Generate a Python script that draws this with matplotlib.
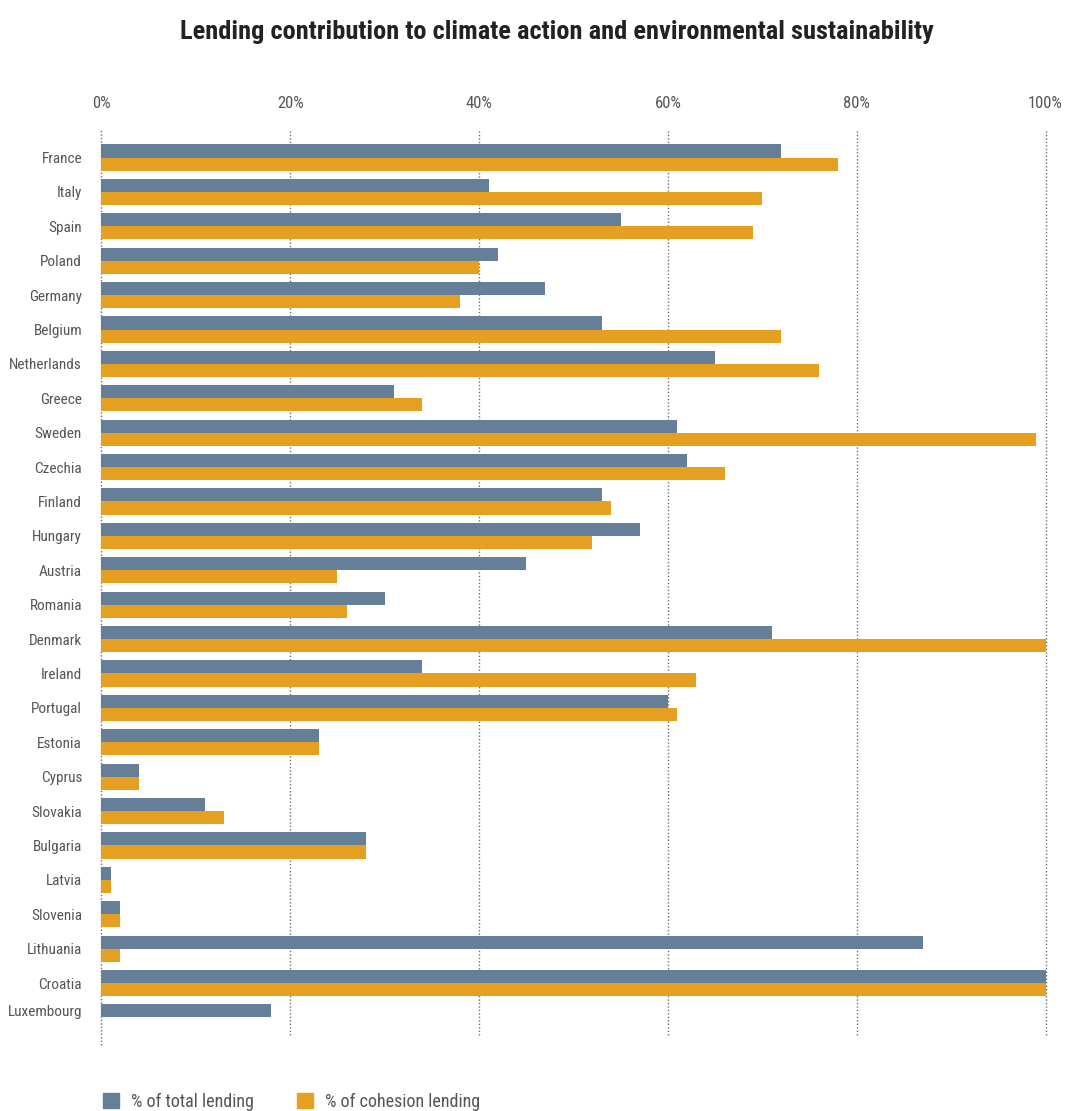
import matplotlib.pyplot as plt
from matplotlib import font_manager as fm
from matplotlib.patches import Patch
import numpy as np

countries = [
    'France', 'Italy', 'Spain', 'Poland', 'Germany', 'Belgium', 'Netherlands',
    'Greece', 'Sweden', 'Czechia', 'Finland', 'Hungary', 'Austria', 'Romania',
    'Denmark', 'Ireland', 'Portugal', 'Estonia', 'Cyprus', 'Slovakia',
    'Bulgaria', 'Latvia', 'Slovenia', 'Lithuania', 'Croatia', 'Luxembourg',
]
total_lending = [72, 41, 55, 42, 47, 53, 65, 31, 61, 62, 53, 57, 45, 30,
                 71, 34, 60, 23, 4, 11, 28, 1, 2, 87, 100, 18]
# Luxembourg has no cohesion lending figure
cohesion_lending = [78, 70, 69, 40, 38, 72, 76, 34, 99, 66, 54, 52, 25, 26,
                    100, 63, 61, 23, 4, 13, 28, 1, 2, 2, 100, np.nan]
xticks = [0, 20, 40, 60, 80, 100]

BLUE = '#657f98'
ORANGE = '#e6a021'
TEXT = '#555555'


def pick_narrow_font():
    """Look for an installed condensed face; fall back to DejaVu Sans."""
    narrow = ('condensed', 'semi-condensed', 'extra-condensed', 'ultra-condensed')
    faces = [f for f in fm.fontManager.ttflist if f.stretch in narrow]
    prefs = ['Liberation Sans Narrow', 'Roboto Condensed', 'Open Sans Condensed',
             'Noto Sans', 'Noto Sans Condensed', 'DejaVu Sans']
    for name in prefs:
        for f in faces:
            if f.name == name:
                return f.name, f.stretch
    if faces:
        return faces[0].name, faces[0].stretch
    return 'DejaVu Sans', 'normal'


family, stretch = pick_narrow_font()
plt.rcParams['font.family'] = [family, 'DejaVu Sans']
plt.rcParams['font.stretch'] = stretch

fig = plt.figure(figsize=(10.65, 11.11), dpi=100)
ax = fig.add_axes([0.0953, 0.0594, 0.8864, 0.8236])

y = np.arange(len(countries))
h = 0.38
ax.barh(y - h / 2, total_lending, height=h, color=BLUE, zorder=2)
ax.barh(y + h / 2, np.nan_to_num(cohesion_lending), height=h, color=ORANGE, zorder=2)

ax.set_xlim(0, 100)
ax.set_ylim(len(countries) - 0.2, -0.8)

# dotted guides; the zero line runs a little further down
for v in xticks:
    ymin = 0 if v == 0 else 0.011
    ax.axvline(v, ymin=ymin, ymax=1, color='#6f6f6f', lw=1,
               linestyle=(0, (1, 1.5)), zorder=1, clip_on=False)

ax.xaxis.tick_top()
ax.set_xticks(xticks)
ax.set_xticklabels([f'{v}%' for v in xticks], fontsize=12, color=TEXT)
ax.tick_params(axis='x', length=0, pad=14)

# single-bar rows get their label on the bar itself
tick_pos = [yy - h / 2 if np.isnan(c) else yy for yy, c in zip(y, cohesion_lending)]
ax.set_yticks(tick_pos)
ax.set_yticklabels(countries, fontsize=11, color=TEXT)
ax.tick_params(axis='y', length=0, pad=14)

for s in ax.spines.values():
    s.set_visible(False)

fig.text(0.523, 0.971, 'Lending contribution to climate action and environmental sustainability',
         ha='center', va='center', fontsize=19, fontweight='bold', color='#222222')

handles = [Patch(color=BLUE, label='% of total lending'),
           Patch(color=ORANGE, label='% of cohesion lending')]
fig.legend(handles=handles, loc='center left', bbox_to_anchor=(0.081, 0.008),
           ncol=2, frameon=False, fontsize=13, labelcolor=TEXT,
           handlelength=0.9, handleheight=0.9, handletextpad=0.65, columnspacing=2.4)

fig.savefig('out.png', dpi=100)
